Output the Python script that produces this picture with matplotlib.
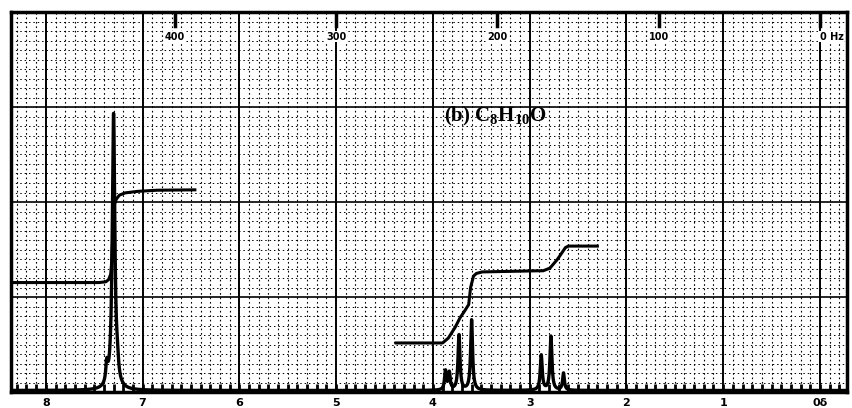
import numpy as np
import matplotlib
matplotlib.use('Agg')
import matplotlib.pyplot as plt

plt.rcParams['mathtext.default'] = 'regular'

# peaks: position (ppm), height (chart units, 0-100), half width (ppm)
peak_ppm = [7.37, 7.30, 7.26, 3.87, 3.83, 3.73, 3.60, 2.88, 2.78, 2.65]
peak_height = [5.0, 72.5, 3.5, 5.0, 4.5, 14.5, 18.5, 9.2, 14.2, 4.5]
peak_width = [0.012, 0.016, 0.012, 0.011, 0.011, 0.012, 0.012, 0.012, 0.012, 0.011]

# integral traces (ppm, chart units)
integ1_ppm = [8.36, 7.45, 7.38, 7.35, 7.33, 7.32, 7.31, 7.30, 7.29, 7.27, 7.24, 7.18, 7.05, 6.85, 6.46]
integ1_val = [28.8, 28.8, 29.0, 29.6, 31.0, 34.0, 40.0, 46.5, 49.5, 50.8, 51.8, 52.4, 52.8, 53.1, 53.2]
integ2_ppm = [4.38, 3.90, 3.84, 3.77, 3.72, 3.68, 3.63, 3.61, 3.58, 3.55, 3.49, 2.91, 2.86, 2.79, 2.71, 2.63, 2.60, 2.30]
integ2_val = [12.9, 12.9, 14.2, 17.0, 19.5, 21.0, 23.0, 27.5, 30.5, 31.2, 31.6, 31.9, 31.9, 32.6, 35.0, 38.0, 38.4, 38.4]

hz_labels = ['400', '300', '200', '100', '0 Hz']
hz_values = [400, 300, 200, 100, 0]
ppm_labels = ['8', '7', '6', '5', '4', '3', '2', '1', '0δ']
ppm_values = [8, 7, 6, 5, 4, 3, 2, 1, 0]
spectrometer_mhz = 60.0

fig = plt.figure(figsize=(8.52, 4.08), dpi=100)
ax = fig.add_axes([11 / 852, 16 / 408, 836 / 852, 380 / 408])
ax.set_xlim(8.36, -0.28)
ax.set_ylim(0, 100)

# chart paper grid
for v in np.arange(-0.2, 8.4, 0.1):
    v = round(v, 1)
    if abs(v - round(v)) < 1e-6:
        ax.axvline(v, color='black', lw=1.4, zorder=1)
    else:
        ax.axvline(v, color='black', lw=0.8, ls=(0, (1.5, 2.5)), zorder=1)
for h in np.arange(2.5, 100, 2.5):
    if abs(h % 25) < 1e-6:
        ax.axhline(h, color='black', lw=1.2, zorder=1)
    else:
        ax.axhline(h, color='black', lw=0.7, ls=(0, (1.5, 3)), zorder=1)

# spectrum
x = np.linspace(8.36, -0.28, 6000)
y = np.zeros_like(x)
for p, h, w in zip(peak_ppm, peak_height, peak_width):
    y += h * w ** 2 / ((x - p) ** 2 + w ** 2)
ax.plot(x, y + 0.4, color='black', lw=2.4, zorder=3)

# integrals
ax.plot(integ1_ppm, integ1_val, color='black', lw=2.2, zorder=3)
ax.plot(integ2_ppm, integ2_val, color='black', lw=2.2, zorder=3)

# bottom ticks and labels
ax.set_xticks(ppm_values)
ax.set_xticklabels(ppm_labels, fontsize=8, fontweight='bold')
ax.set_xticks(np.arange(-0.2, 8.4, 0.1), minor=True)
ax.tick_params(axis='x', which='both', direction='in', length=6, width=2, pad=4, top=False)
ax.set_yticks([])

# top Hz scale
for lab, hz in zip(hz_labels, hz_values):
    p = hz / spectrometer_mhz
    ax.plot([p, p], [96.3, 100], color='black', lw=2.5, zorder=4)
    ax.text(p + (0.0 if hz else -0.12), 93.5, lab, ha='center', va='center',
            fontsize=7, fontweight='bold', zorder=5,
            bbox=dict(facecolor='white', edgecolor='none', pad=0.5))

ax.text(3.36, 72.6, '(b) C$_8$H$_{10}$O', ha='center', va='center', fontsize=15,
        fontweight='bold', family='Liberation Serif', zorder=5)

for s in ax.spines.values():
    s.set_linewidth(2.5)

fig.savefig('out.png', dpi=100)
